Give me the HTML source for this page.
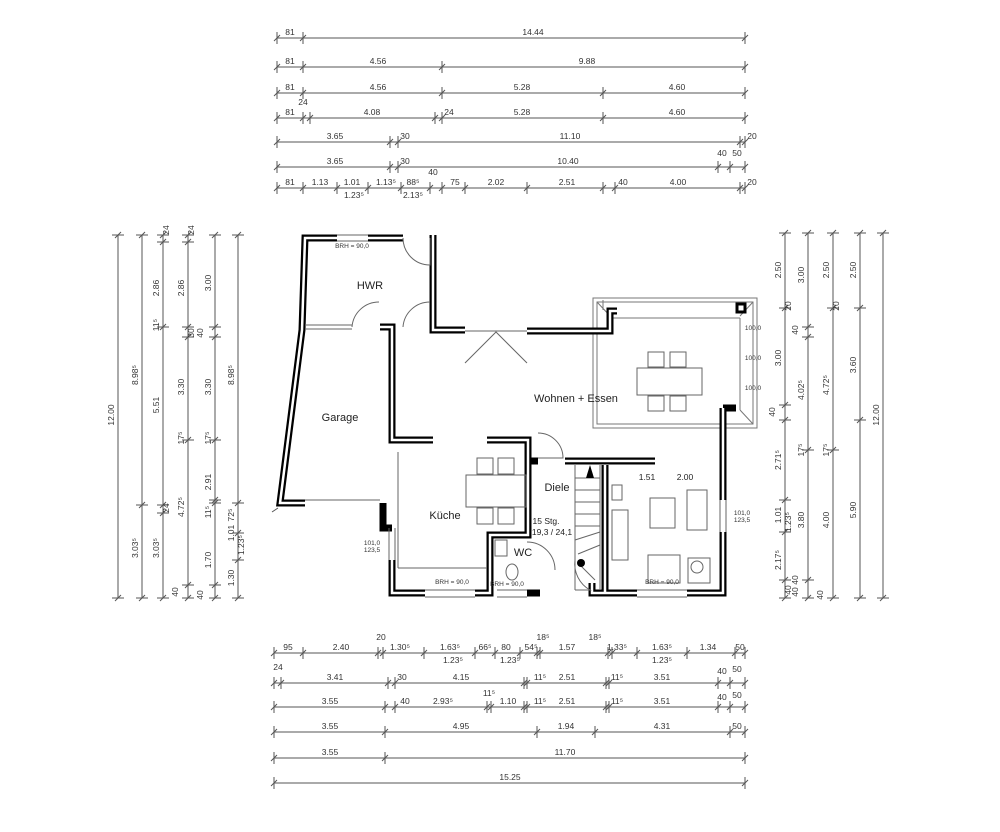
<!DOCTYPE html>
<html><head><meta charset="utf-8"><style>
html,body{margin:0;padding:0;background:#fff;}
svg{display:block;font-family:"Liberation Sans",sans-serif;}
</style></head><body>
<svg id="s" width="1000" height="832" viewBox="0 0 1000 832" xmlns="http://www.w3.org/2000/svg">
<rect width="1000" height="832" fill="#fff"/>
<g id="dims" stroke="#555" stroke-width="1" fill="none"></g>
<g id="txt" fill="#333" font-size="8.5" text-anchor="middle"></g>

<!-- terrace -->
<g stroke="#777" stroke-width="1" fill="none">
<rect x="593" y="298" width="164" height="130"/>
<rect x="597" y="302" width="156" height="122"/>
<line x1="597" y1="302" x2="612" y2="318"/><line x1="753" y1="302" x2="740" y2="316"/>
<line x1="753" y1="424" x2="740" y2="410"/>
<line x1="610" y1="318" x2="740" y2="318"/><line x1="740" y1="318" x2="740" y2="410"/>
<line x1="603" y1="300" x2="603" y2="310"/>
</g>
<!-- walls -->
<g stroke="#000" stroke-width="7" fill="none" stroke-linejoin="miter" id="w1">
<polyline points="337,238 305,238 302,330 280,503 305,503"/>
<polyline points="368,238 403,238"/>
<polyline points="433,235 433,330 465,330"/>
<polyline points="527,331 610,331 610,311 617,311"/>
<polyline points="723,408 736,408"/>
<polyline points="723,408 723,500"/>
<polyline points="723,532 723,593 687,593"/>
<polyline points="637,593 592,593 592,583"/>
<polyline points="605,465 605,593"/>
<polyline points="565,461 655,461"/>
<polyline points="528,461 538,461"/>
<polyline points="487,440 528,440 528,535 490,535 490,593 475,593"/>
<polyline points="527,593 540,593"/>
<polyline points="425,593 392,593 392,560"/>
<polyline points="383,503 383,528 392,528"/>
<polyline points="380,327 392,327 392,440 433,440"/>
<rect x="737" y="304" width="8" height="8" stroke-width="3"/>
</g>
<g stroke="#fff" stroke-width="2.5" fill="none">
<polyline points="337,238 305,238 302,330 280,503 305,503"/>
<polyline points="368,238 403,238"/>
<polyline points="433,235 433,330 465,330"/>
<polyline points="527,331 610,331 610,311 617,311"/>
<polyline points="723,408 723,500"/>
<polyline points="723,532 723,593 687,593"/>
<polyline points="637,593 592,593 592,583"/>
<polyline points="605,465 605,593"/>
<polyline points="565,461 655,461"/>
<polyline points="487,440 528,440 528,535 490,535 490,593 475,593"/>
<polyline points="425,593 392,593 392,560"/>
<polyline points="380,327 392,327 392,440 433,440"/>
</g>
<!-- thin interior lines, windows, doors -->
<g stroke="#666" stroke-width="1" fill="none">
<line x1="305" y1="325" x2="352" y2="325"/><line x1="305" y1="329" x2="352" y2="329"/>
<line x1="337" y1="235" x2="368" y2="235"/><line x1="337" y1="241" x2="368" y2="241"/>
<line x1="425" y1="590" x2="475" y2="590"/><line x1="425" y1="597" x2="475" y2="597"/>
<line x1="497" y1="590" x2="527" y2="590"/><line x1="497" y1="597" x2="527" y2="597"/>
<line x1="637" y1="590" x2="687" y2="590"/><line x1="637" y1="597" x2="687" y2="597"/>
<line x1="389" y1="528" x2="389" y2="560"/><line x1="395" y1="528" x2="395" y2="560"/>
<line x1="720" y1="500" x2="720" y2="532"/><line x1="726" y1="500" x2="726" y2="532"/>
<line x1="305" y1="500" x2="380" y2="500"/>
<line x1="398" y1="452" x2="398" y2="568"/><line x1="398" y1="568" x2="487" y2="568"/>
<line x1="465" y1="331" x2="527" y2="331"/>
<polyline points="465,363 496,332 527,363"/>
<path d="M403,238 A27,27 0 0 0 430,265 L430,238"/>
<path d="M352,327 A27,27 0 0 1 379,302"/>
<path d="M403,327 A27,27 0 0 1 430,302"/>
<path d="M538,433 A25,25 0 0 1 563,458 L538,458"/>
<path d="M527,542 A28,28 0 0 1 555,570"/>
<path d="M575,560 A30,30 0 0 0 590,590 L575,590"/>
<line x1="575" y1="465" x2="575" y2="590"/><line x1="600" y1="465" x2="600" y2="590"/>
<line x1="575" y1="478" x2="600" y2="478"/><line x1="575" y1="490" x2="600" y2="490"/><line x1="575" y1="502" x2="600" y2="502"/><line x1="575" y1="514" x2="600" y2="514"/><line x1="575" y1="526" x2="600" y2="526"/><line x1="575" y1="540" x2="600" y2="532"/><line x1="578" y1="554" x2="600" y2="545"/><line x1="580" y1="565" x2="595" y2="580"/>
<rect x="637" y="368" width="65" height="27"/>
<rect x="648" y="352" width="16" height="15"/><rect x="670" y="352" width="16" height="15"/>
<rect x="648" y="396" width="16" height="15"/><rect x="670" y="396" width="16" height="15"/>
<rect x="466" y="475" width="60" height="32"/>
<rect x="477" y="458" width="16" height="16"/><rect x="498" y="458" width="16" height="16"/>
<rect x="477" y="508" width="16" height="16"/><rect x="498" y="508" width="16" height="16"/>
<rect x="650" y="498" width="25" height="30"/><rect x="687" y="490" width="20" height="40"/>
<rect x="648" y="555" width="32" height="28"/><rect x="688" y="558" width="22" height="25"/>
<circle cx="697" cy="567" r="6"/>
<rect x="612" y="485" width="10" height="15"/><rect x="612" y="510" width="16" height="50"/>
<rect x="495" y="540" width="12" height="16"/><ellipse cx="512" cy="572" rx="6" ry="8"/>
</g>
<circle cx="581" cy="563" r="4" fill="#000"/>
<polygon points="590,465 586,478 594,478" fill="#000"/>
<g fill="#222" font-size="11" text-anchor="middle">
<text x="370" y="289">HWR</text>
<text x="340" y="421">Garage</text>
<text x="576" y="402">Wohnen + Essen</text>
<text x="445" y="519">Küche</text>
<text x="557" y="491">Diele</text>
<text x="523" y="556">WC</text>
<text x="546" y="524" font-size="8.5">15 Stg.</text>
<text x="552" y="535" font-size="8.5">19,3 / 24,1</text>
<text x="647" y="480" font-size="8.5">1.51</text>
<text x="685" y="480" font-size="8.5">2.00</text>
</g>
<g fill="#333" font-size="6.5" text-anchor="middle">
<text x="352" y="248">BRH = 90,0</text><text x="452" y="584">BRH = 90,0</text><text x="507" y="586">BRH = 90,0</text><text x="662" y="584">BRH = 90,0</text>
<text x="372" y="545">101,0</text><text x="372" y="552">123,5</text>
<text x="742" y="515">101,0</text><text x="742" y="522">123,5</text>
<text x="753" y="330">100,0</text><text x="753" y="360">100,0</text><text x="753" y="390">100,0</text>
</g>
<script>
var d=document.getElementById('dims'),t=document.getElementById('txt'),NS='http://www.w3.org/2000/svg';
function L(a,b,c,e){var l=document.createElementNS(NS,'line');l.setAttribute('x1',a);l.setAttribute('y1',b);l.setAttribute('x2',c);l.setAttribute('y2',e);d.appendChild(l);}
function T(x,y,s,r){var q=document.createElementNS(NS,'text');q.setAttribute('x',x);q.setAttribute('y',y);if(r)q.setAttribute('transform','rotate(-90 '+x+' '+y+')');q.textContent=s;t.appendChild(q);}
function H(y,xs,lb){L(xs[0],y,xs[xs.length-1],y);xs.forEach(function(x){L(x,y-6,x,y+6);L(x-3,y+3,x+3,y-3);});lb.forEach(function(l){T(l[0],y-3+(l[2]||0),l[1]);});}
function V(x,ys,lb){L(x,ys[0],x,ys[ys.length-1]);ys.forEach(function(y){L(x-6,y,x+6,y);L(x-3,y+3,x+3,y-3);});lb.forEach(function(l){T(x-4+(l[2]||0),l[0],l[1],1);});}
H(38,[277,303,745],[[290,'81'],[533,'14.44']]);
H(67,[277,303,442,745],[[290,'81'],[378,'4.56'],[587,'9.88']]);
H(93,[277,303,442,603,745],[[290,'81'],[378,'4.56'],[522,'5.28'],[677,'4.60']]);
H(118,[277,303,310,435,442,603,745],[[290,'81'],[303,'24',-10],[372,'4.08'],[449,'24'],[522,'5.28'],[677,'4.60']]);
H(142,[277,390,398,740,745],[[335,'3.65'],[405,'30'],[570,'11.10'],[752,'20']]);
H(167,[277,390,398,718,730,745],[[335,'3.65'],[405,'30'],[568,'10.40'],[722,'40',-8],[737,'50',-8]]);
H(188,[277,303,337,368,401,430,442,465,527,603,615,740,745],[[290,'81'],[320,'1.13'],[352,'1.01'],[354,'1.23⁵',13],[386,'1.13⁵'],[413,'88⁵'],[413,'2.13⁵',13],[433,'40',-10],[455,'75'],[496,'2.02'],[567,'2.51'],[623,'40'],[678,'4.00'],[752,'20']]);
H(653,[274,303,378,383,424,475,495,520,537,540,608,612,637,687,735,745],[[288,'95'],[341,'2.40'],[381,'20',-10],[400,'1.30⁵'],[450,'1.63⁵'],[453,'1.23⁵',13],[485,'66⁵'],[506,'80'],[531,'54⁵'],[510,'1.23⁵',13],[543,'18⁵',-10],[567,'1.57'],[595,'18⁵',-10],[617,'1.33⁵'],[662,'1.63⁵'],[662,'1.23⁵',13],[708,'1.34'],[740,'50']]);
H(683,[274,281,388,395,524,527,606,609,718,730,745],[[278,'24',-10],[335,'3.41'],[402,'30'],[461,'4.15'],[540,'11⁵'],[567,'2.51'],[617,'11⁵'],[662,'3.51'],[722,'40',-6],[737,'50',-8]]);
H(707,[274,385,395,487,491,524,527,606,609,718,730,745],[[330,'3.55'],[405,'40'],[443,'2.93⁵'],[489,'11⁵',-8],[508,'1.10'],[540,'11⁵'],[567,'2.51'],[617,'11⁵'],[662,'3.51'],[722,'40',-4],[737,'50',-6]]);
H(732,[274,385,537,595,730,745],[[330,'3.55'],[461,'4.95'],[566,'1.94'],[662,'4.31'],[737,'50']]);
H(758,[274,385,745],[[330,'3.55'],[565,'11.70']]);
H(783,[274,745],[[510,'15.25']]);
V(118,[235,598],[[415,'12.00']]);
V(142,[235,505,598],[[375,'8.98⁵'],[548,'3.03⁵']]);
V(163,[235,242,327,505,513,598],[[230,'24',10],[288,'2.86'],[325,'11⁵'],[405,'5.51'],[508,'24',10],[548,'3.03⁵']]);
V(188,[235,242,327,337,440,585,598],[[230,'24',10],[288,'2.86'],[333,'30',10],[387,'3.30'],[438,'17⁵'],[507,'4.72⁵'],[592,'40',-6]]);
V(215,[235,327,337,440,500,503,585,598],[[283,'3.00'],[333,'40',-8],[387,'3.30'],[438,'17⁵'],[482,'2.91'],[512,'11⁵'],[560,'1.70'],[595,'40',-8]]);
V(238,[235,503,533,560,598],[[375,'8.98⁵'],[515,'72⁵'],[533,'1.01'],[545,'1.23⁵',10],[578,'1.30']]);
V(785,[233,308,405,420,500,532,580,598],[[270,'2.50'],[306,'20',10],[358,'3.00'],[412,'40',-6],[460,'2.71⁵'],[515,'1.01'],[522,'1.23⁵',10],[560,'2.17⁵'],[590,'40',10]]);
V(808,[233,327,337,450,580,598],[[275,'3.00'],[330,'40',-6],[390,'4.02⁵'],[450,'17⁵'],[520,'3.80'],[580,'40',-6],[592,'40',-6]]);
V(833,[233,308,450,598],[[270,'2.50'],[306,'20',10],[385,'4.72⁵'],[450,'17⁵'],[520,'4.00'],[595,'40',-6]]);
V(860,[233,308,420,598],[[270,'2.50'],[365,'3.60'],[510,'5.90']]);
V(883,[233,598],[[415,'12.00']]);
L(278,508,272,512);
</script>
</svg>
</body></html>
